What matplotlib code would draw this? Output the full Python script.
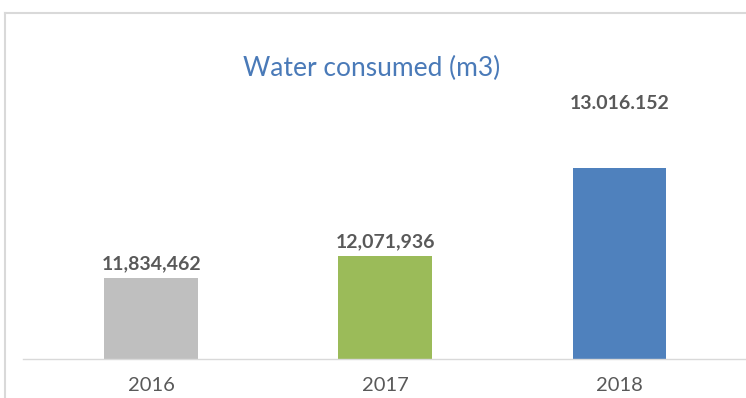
import matplotlib.pyplot as plt
from matplotlib.lines import Line2D

# Data
years = ["2016", "2017", "2018"]
water = [11834462, 12071936, 13016152]
value_labels = ["11,834,462", "12,071,936", "13.016.152"]
colors = ["#bfbfbf", "#9bbb59", "#4f81bd"]

plt.rcParams['font.family'] = ['Lato', 'DejaVu Sans']

W, H = 746, 398
fig = plt.figure(figsize=(W / 100, H / 100), dpi=100)

# axes area in pixel terms
left, right, bottom, top = 23, 746, 359, 13
ax = fig.add_axes([left / W, 1 - bottom / H, (right - left) / W, (bottom - top) / H])

x = range(len(years))
ax.bar(x, water, width=0.40, color=colors, zorder=2)

ax.set_xlim(-0.547, 2.54)
ax.set_ylim(10.96e6, 14.68e6)

# data labels (last one sits higher in the original)
label_pad = [4, 4, 40]
for i, (v, lab) in enumerate(zip(water, value_labels)):
    ax.annotate(lab, (i, v), xytext=(0, label_pad[i]), textcoords="offset points",
                ha="center", va="bottom", fontsize=14, fontweight="bold", color="#595959")

ax.set_xticks(list(x))
ax.set_xticklabels(years, fontsize=14.5, color="#595959")
ax.tick_params(axis="x", length=0, pad=13)
ax.set_yticks([])
for s in ["top", "right", "left"]:
    ax.spines[s].set_visible(False)
ax.spines["bottom"].set_color("#d9d9d9")
ax.spines["bottom"].set_linewidth(1)
ax.patch.set_alpha(0)

# title
fig.text(372 / W, 1 - 68 / H, "Water consumed (m3)", ha="center", va="center",
         fontsize=19, color="#4a7ab8")

# chart frame (top and left edge)
fig.add_artist(Line2D([5 / W, 1], [1 - 13 / H, 1 - 13 / H], color="#d9d9d9", lw=1.5,
                      transform=fig.transFigure))
fig.add_artist(Line2D([5 / W, 5 / W], [0, 1 - 13 / H], color="#d9d9d9", lw=1.5,
                      transform=fig.transFigure))

fig.savefig("out.png", dpi=100)
